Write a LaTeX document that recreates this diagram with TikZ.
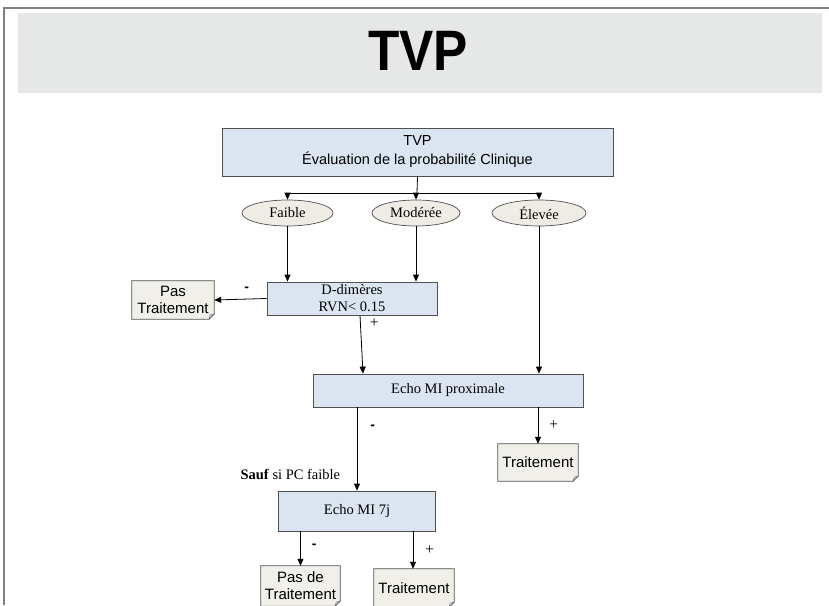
\documentclass[tikz,border=0pt]{standalone}
\usepackage{fontspec}
\setmainfont{Liberation Serif}
\setsansfont{Liberation Sans}
\usetikzlibrary{arrows.meta,shapes.geometric,backgrounds}

\definecolor{bandgray}{HTML}{E6E7E7}
\definecolor{boxblue}{HTML}{DBE5F1}
\definecolor{notebeige}{HTML}{F1EFE9}
\definecolor{ovalbeige}{HTML}{EEECE4}
\definecolor{edgegray}{HTML}{505050}

\tikzset{
  bluebox/.style={draw=edgegray, fill=boxblue, line width=0.8pt, inner sep=1pt, align=center, font=\fontsize{14.5}{16}\selectfont},
  oval/.style={ellipse, draw=edgegray, fill=ovalbeige, line width=0.7pt, inner sep=0pt, font=\fontsize{14.5}{16}\selectfont},
  notebox/.style={inner sep=1pt, align=center, font=\sffamily\fontsize{15}{17}\selectfont},
  arr/.style={-{Triangle[length=7pt,width=6pt]}, line width=0.8pt},
  sign/.style={font=\fontsize{15.5}{17}\selectfont, inner sep=0pt},
  minus/.style={font=\sffamily\bfseries\fontsize{14}{16}\selectfont, inner sep=0pt}
}

\begin{document}
\begin{tikzpicture}[x=1pt, y=-1pt]
\useasboundingbox (0,0) rectangle (829,605);

% Frame and title band
\draw[gray, line width=1.6pt] (4,605) -- (4,8) -- (829,8);
\fill[bandgray] (18,13) rectangle (822,93);
\node[font=\sffamily\bfseries\fontsize{57}{60}\selectfont, xscale=0.9] (title) at (418,51) {TVP};

% Main box and probability levels
\node[bluebox, font=\sffamily\fontsize{14.5}{19}\selectfont, minimum width=391pt, minimum height=48pt] (main) at (417.5,152) {TVP\\Évaluation de la probabilité Clinique};
\node[oval, minimum width=91pt, minimum height=26pt] (faible) at (287.5,213) {Faible};
\node[oval, minimum width=88pt, minimum height=26pt] (moderee) at (416,213) {Modérée};
\node[oval, minimum width=94pt, minimum height=26pt] (elevee) at (539,213) {Élevée};
\coordinate (split) at (417,193);

% Tests
\node[bluebox, font=\fontsize{14.5}{17}\selectfont, minimum width=170pt, minimum height=33pt] (ddim) at (352,298.5) {D-dimères\\RVN< 0.15};
\node[bluebox, minimum width=270pt, minimum height=33pt] (echo) at (448,390.5) {Echo MI proximale};
\node[bluebox, minimum width=157pt, minimum height=40pt] (echo7) at (357,511) {Echo MI 7j};
\node[font=\fontsize{14.5}{16}\selectfont, anchor=west] (sauf) at (237,474) {\textbf{Sauf} si PC faible};

% Outcomes
\node[notebox, minimum width=82pt, minimum height=38pt] (pas1) at (173,300) {Pas\\Traitement};
\node[notebox, minimum width=80pt, minimum height=37pt] (trt1) at (538,462.5) {Traitement};
\node[notebox, minimum width=79pt, minimum height=40pt] (pas2) at (300.5,586) {Pas de\\Traitement};
\node[notebox, minimum width=80pt, minimum height=38pt] (trt2) at (414,588) {Traitement};

% Folded note shapes behind the outcome texts
\begin{scope}[on background layer]
\foreach \n in {pas1,trt1,pas2,trt2}{
  \draw[draw=edgegray, fill=notebeige, line width=0.7pt]
    (\n.north west) -- (\n.north east) -- ([yshift=5pt]\n.south east)
    -- ([xshift=-5pt]\n.south east) -- (\n.south west) -- cycle;
  \draw[edgegray, line width=0.5pt] ([yshift=5pt]\n.south east) -- ([xshift=-4pt,yshift=4pt]\n.south east) -- ([xshift=-5pt]\n.south east);
}
\end{scope}

% Connections
\draw[line width=0.8pt] (main.south) -- (split);
\draw[line width=0.8pt] (faible.north |- split) -- (elevee.north |- split);
\draw[arr] (faible.north |- split) -- (faible.north);
\draw[arr] (moderee.north |- split) -- (moderee.north);
\draw[arr] (elevee.north |- split) -- (elevee.north);

\draw[arr] (faible.south) -- (faible.south |- ddim.north);
\draw[arr] (moderee.south) -- (moderee.south |- ddim.north);
\draw[arr] (ddim.west) -- node[minus, pos=0.38, above=7pt] {-} (pas1.east);
\draw[arr] ([xshift=8pt]ddim.south) -- node[sign, pos=0.14, right=9pt] {+} ([xshift=-85pt]echo.north);
\draw[arr] (elevee.south) -- (elevee.south |- echo.north);

\draw[arr] (echo7.north |- echo.south) -- node[minus, pos=0.24, right=13pt] {-} (echo7.north);
\draw[arr] (trt1.north |- echo.south) -- node[sign, pos=0.5, right=11pt] {+} (trt1.north);

\draw[arr] (pas2.north |- echo7.south) -- node[minus, pos=0.42, right=11pt] {-} (pas2.north);
\draw[arr] ([xshift=-1pt]trt2.north |- echo7.south) -- node[sign, pos=0.5, right=12pt] {+} ([xshift=-1pt]trt2.north);

\end{tikzpicture}
\end{document}
